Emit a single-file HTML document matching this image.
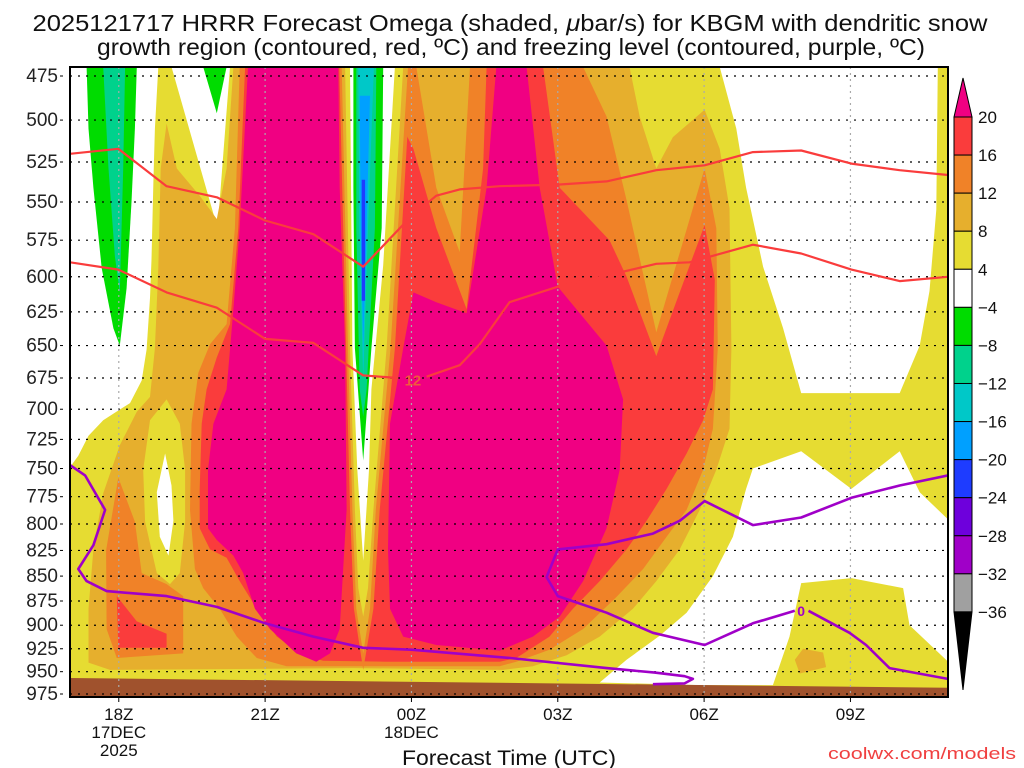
<!DOCTYPE html>
<html><head><meta charset="utf-8"><title>HRRR Omega KBGM</title>
<style>
html,body{margin:0;padding:0;background:#fff;}
svg{display:block;font-family:"Liberation Sans Narrow","Liberation Sans",sans-serif;}
</style></head>
<body>
<svg id="chart" width="1024" height="768" viewBox="0 0 1024 768" xmlns="http://www.w3.org/2000/svg">
<text x="510" y="31" font-size="23" text-anchor="middle" textLength="955" lengthAdjust="spacingAndGlyphs" fill="#111">2025121717 HRRR Forecast Omega (shaded, <tspan font-style="italic">μ</tspan>bar/s) for KBGM with dendritic snow</text>
<text x="511" y="55" font-size="23" text-anchor="middle" textLength="828" lengthAdjust="spacingAndGlyphs" fill="#111">growth region (contoured, red, ºC) and freezing level (contoured, purple, ºC)</text>
<defs><clipPath id="plotclip"><rect x="70" y="67" width="878" height="630"/></clipPath></defs>
<g id="plot" clip-path="url(#plotclip)"></g>
<g id="overlay"></g>
<g id="axes"></g>
<g id="cbar"></g>
<text x="509" y="765" font-size="21" text-anchor="middle" textLength="214" lengthAdjust="spacingAndGlyphs" fill="#111">Forecast Time (UTC)</text>
<text x="1016" y="759" font-size="17" text-anchor="end" textLength="188" lengthAdjust="spacingAndGlyphs" fill="#f04040">coolwx.com/models</text>
</svg>
<script>
// ---------- data ----------
const hourDomain = [17, 35];
const presDomain = [470.5, 978.5];
const pressureTicks = [475,500,525,550,575,600,625,650,675,700,725,750,775,800,825,850,875,900,925,950,975];
const timeTickHours = [18,21,24,27,30,33];
const timeTickLabels = [["18Z","17DEC","2025"],["21Z"],["00Z","18DEC"],["03Z"],["06Z"],["09Z"]];
const cbarLabels = ["20","16","12","8","4","−4","−8","−12","−16","−20","−24","−28","−32","−36"];
const cbarColors = ["#fa3c3c","#f08228","#e6af2d","#e6dc32","#ffffff","#00dc00","#00d28c","#00c8c8","#00a0ff","#1e3cff","#6e00dc","#a000c8","#a0a0a0"];

// shaded omega regions [hour, hPa], painted in order
const yellowBase = [[17,470],[35,470],[35,979],[17,979]];
const whiteLeftTop = [[17,470],[18.81,470],[18.74,505],[18.71,537],[18.67,588],[18.64,615],[18.57,653],[18.47,677],[18.23,695],[17.99,701],[17.68,709],[17.38,722],[17.17,739],[17.03,747],[17,747]];
const whiteWedge = [[19.08,470],[20.28,470],[20.04,561],[19.97,561]];
const whiteRightTop = [[30.32,470],[34.79,470],[34.76,555],[34.62,610],[34.42,650],[34.01,687],[31.99,687],[31.62,637],[31.21,593],[30.86,541],[30.66,505]];
const whiteRightBottom = [[31.0,750],[31.99,735],[33.02,768],[34.01,735],[34.42,771],[35.1,800],[35.1,944],[34.21,900],[34.08,862],[33.02,852],[31.99,857],[31.75,912],[31.41,965],[29.91,965],[27.86,962],[28.41,937],[29.09,911],[29.64,887],[30.18,850],[30.59,812],[30.86,768]];
const lightOrangeMain = [[20.35,470],[20.21,529],[20.01,561],[19.66,546],[19.19,529],[18.98,502],[18.86,529],[18.81,594],[18.74,652],[18.64,690],[18.37,702],[18.02,730],[17.68,772],[17.48,824],[17.38,883],[17.38,940],[17.82,948],[22.81,946],[25.88,948],[26.49,944],[27.18,932],[27.86,912],[28.54,883],[29.02,855],[29.5,824],[29.91,787],[30.25,751],[30.52,716],[30.56,652],[30.52,554],[30.32,517],[30.01,494],[29.36,510],[29.02,529],[28.68,498],[28.47,470]];
const lightOrangeBlobRight = [[31.86,937],[32.03,925],[32.44,929],[32.5,945],[31.96,952]];
const yellowAroundHole = [[18.98,692],[19.25,712],[19.36,751],[19.36,798],[19.25,847],[19.05,858],[18.78,847],[18.54,798],[18.5,751],[18.64,709]];
const whiteHole = [[18.95,737],[19.08,765],[19.12,797],[19.02,830],[18.84,812],[18.78,771]];
const orangeLeftBlob = [[17.99,758],[18.33,798],[18.47,847],[18.98,858],[19.32,870],[19.32,930],[17.96,935],[17.75,904],[17.74,825]];
const redLeftBlob = [[17.96,870],[18.37,896],[18.98,909],[18.98,924],[17.99,924]];
const orangeMain = [[20.48,470],[20.38,567],[20.21,634],[19.87,649],[19.63,671],[19.49,712],[19.46,787],[19.56,843],[19.73,862],[20.07,883],[20.42,912],[20.83,935],[21.44,944],[25.81,944],[26.15,939],[26.83,926],[27.52,904],[28.2,871],[28.75,843],[29.23,812],[29.64,787],[29.98,751],[30.18,716],[30.28,652],[30.25,567],[30.01,529],[29.02,640],[28.41,549],[28.0,498],[27.52,470]];
const lightOrangeTongue = [[24.1,470],[25.2,470],[24.99,583],[24.51,541]];
const redMain = [[20.59,470],[22.74,470],[23.83,505],[24.04,517],[24.51,567],[25.13,623],[25.47,529],[25.54,470],[26.7,470],[27.04,541],[28.06,575],[28.41,600],[29.02,658],[29.5,611],[30.01,565],[30.22,602],[30.18,684],[29.98,709],[29.64,737],[29.23,768],[28.82,797],[28.41,824],[27.86,855],[27.31,883],[26.83,912],[26.15,935],[25.81,939],[23.49,939],[22.19,938],[21.78,932],[21.24,912],[20.83,883],[20.48,855],[20.21,832],[19.87,824],[19.66,804],[19.66,768],[19.7,712],[19.8,684],[20.01,659],[20.28,634],[20.45,567]];
const magentaLeft = [[20.65,470],[20.48,567],[20.35,623],[20.21,684],[19.94,712],[19.83,751],[19.83,804],[20.01,815],[20.35,830],[20.55,847],[20.79,883],[21.1,904],[21.64,930],[22.05,939],[22.33,930],[22.53,904],[22.67,787],[22.64,652],[22.53,541],[22.5,470]];
const magentaRight = [[25.74,470],[25.54,541],[25.13,626],[24.51,618],[24.04,611],[23.83,652],[23.56,712],[23.52,824],[23.56,883],[23.83,912],[24.51,921],[25.81,927],[26.49,912],[27.04,891],[27.52,855],[28.0,804],[28.27,751],[28.34,692],[28.0,650],[27.0,607],[26.63,541],[26.36,470]];
const gapOrange = [[22.52,470],[22.66,652],[22.74,787],[22.82,883],[23.01,948],[23.22,883],[23.35,787],[23.66,652],[24.0,470]];
const gapLightOrange = [[22.57,470],[22.7,652],[22.79,787],[22.87,883],[23.01,930],[23.15,883],[23.27,787],[23.57,652],[23.93,470]];
const gapYellow = [[22.64,470],[22.74,652],[22.84,787],[22.91,862],[23.01,891],[23.11,862],[23.22,787],[23.49,652],[23.83,470]];
const gapWhite = [[22.74,470],[22.79,652],[22.89,751],[23.01,835],[23.13,751],[23.18,684],[23.42,592],[23.66,470]];
const negGreenCol = [[22.81,470],[22.81,541],[22.84,652],[23.01,743],[23.18,652],[23.39,567],[23.42,470]];
const negTealCol = [[22.87,470],[22.87,567],[22.94,684],[23.01,706],[23.08,684],[23.25,567],[23.28,470]];
const negCyanCol = [[22.91,470],[22.93,567],[23.01,677],[23.11,567],[23.23,470]];
const negSkyCol = [[22.94,486],[22.96,567],[23.01,652],[23.08,567],[23.15,486]];
const negBlueCol = [[22.98,536],[22.98,617],[23.05,617],[23.05,536]];
const negGreenLeft = [[17.34,470],[18.37,470],[18.33,505],[18.26,550],[18.16,608],[18.02,650],[17.89,637],[17.65,594],[17.48,541],[17.38,505]];
const negTealLeft = [[17.68,470],[18.13,470],[18.09,529],[18.02,611],[17.92,586],[17.79,529]];
const negGreenStrip = [[19.73,470],[20.21,470],[20.01,496]];
const groundSurface = [[17,957],[35,968],[35,985],[17,985]];

// contour lines [hour, hPa]
const dgzUpper = [[17,520],[17.99,517],[18.98,540],[20.01,547],[21.0,562],[21.99,571],[23.01,593],[23.97,560],[24.51,546],[24.99,542],[25.81,540],[27.0,539],[28.0,537],[29.02,530],[30.01,527],[31.0,519],[31.99,518],[33.02,526],[34.01,530],[35,533]];
const dgzLowerA = [[17,590],[17.99,595],[18.98,611],[20.01,622],[21.0,645],[21.99,648],[23.01,673],[23.73,675]];
const dgzLowerB = [[24.31,674],[24.99,665],[25.4,649],[26.01,618],[27.0,607],[28.27,597],[29.02,591],[29.7,590],[31.0,578],[31.99,584],[33.02,595],[34.01,603],[35,600]];
const dgzLabelPos = [24.03,676];
const freezeA = [[17,747],[17.31,756],[17.72,787],[17.48,820],[17.17,843],[17.34,855],[17.75,865],[18.98,870],[20.01,881],[21.0,898],[21.99,912],[23.01,924],[24.0,926],[26.02,935],[28.0,946],[28.99,951],[29.6,955],[29.77,958],[29.6,963],[28.95,964]];
const freezeB1 = [[35,756],[34.01,765],[33.02,776],[31.99,794],[31.0,801],[30.01,779],[29.5,797],[28.95,809],[28.0,819],[27.0,824],[26.77,851],[27.0,870],[28.0,887],[28.95,908],[30.01,921],[31.0,898],[31.86,885]];
const freezeB2 = [[32.14,885],[32.98,908],[33.32,921],[33.8,946],[35,958]];
const freezeLabelPos = [31.99,885];

// ---------- scales ----------
const X0=70, X1=948, YT=76, YB=694;
function xs(h){ return X0 + (h-hourDomain[0])*(X1-X0)/(hourDomain[1]-hourDomain[0]); }
function ys(p){ return YT + (Math.log(p)-Math.log(475))*(YB-YT)/(Math.log(975)-Math.log(475)); }
const NS="http://www.w3.org/2000/svg";
function mk(tag, attrs, parent){ const e=document.createElementNS(NS,tag); for(const k in attrs) e.setAttribute(k,attrs[k]); parent.appendChild(e); return e; }
function pts(arr){ return arr.map(d=>xs(d[0]).toFixed(1)+","+ys(d[1]).toFixed(1)).join(" "); }

const plot=document.getElementById("plot");
const shading=[
 [yellowBase,"#e6dc32","shade-4-to-8"],
 [whiteLeftTop,"#ffffff","shade-neutral-left"],
 [whiteWedge,"#ffffff","shade-neutral-wedge"],
 [whiteRightTop,"#ffffff","shade-neutral-right-top"],
 [whiteRightBottom,"#ffffff","shade-neutral-right-bottom"],
 [lightOrangeMain,"#e6af2d","shade-8-to-12"],
 [lightOrangeBlobRight,"#e6af2d","shade-8-to-12-blob"],
 [yellowAroundHole,"#e6dc32","shade-4-to-8-patch"],
 [whiteHole,"#ffffff","shade-neutral-hole"],
 [orangeLeftBlob,"#f08228","shade-12-to-16-left"],
 [redLeftBlob,"#fa3c3c","shade-16-to-20-left"],
 [orangeMain,"#f08228","shade-12-to-16"],
 [lightOrangeTongue,"#e6af2d","shade-8-to-12-tongue"],
 [redMain,"#fa3c3c","shade-16-to-20"],
 [magentaLeft,"#f00082","shade-above-20-left"],
 [magentaRight,"#f00082","shade-above-20-right"],
 [gapOrange,"#f08228","gap-12-to-16"],
 [gapLightOrange,"#e6af2d","gap-8-to-12"],
 [gapYellow,"#e6dc32","gap-4-to-8"],
 [gapWhite,"#ffffff","gap-neutral"],
 [negGreenCol,"#00dc00","shade-minus-4-column"],
 [negTealCol,"#00d28c","shade-minus-8-column"],
 [negCyanCol,"#00c8c8","shade-minus-12-column"],
 [negSkyCol,"#00a0ff","shade-minus-16-column"],
 [negBlueCol,"#1e3cff","shade-minus-20-column"],
 [negGreenLeft,"#00dc00","shade-minus-4-left"],
 [negTealLeft,"#00d28c","shade-minus-8-left"],
 [negGreenStrip,"#00dc00","shade-minus-4-strip"]
];
shading.forEach(s=>{
  const e=mk("polygon",{points:pts(s[0]),fill:s[1]},plot);
  
  
});
const g=mk("polygon",{points:pts(groundSurface),fill:"#a0522d"},plot);



// gridlines
pressureTicks.forEach(p=>{
  const l=mk("line",{x1:X0,x2:X1,y1:ys(p),y2:ys(p),stroke:"#000","stroke-width":1.2,"stroke-dasharray":"2,6"},plot);
  
  
});
timeTickHours.forEach(h=>{
  const l=mk("line",{x1:xs(h),x2:xs(h),y1:67,y2:697,stroke:"#aaaaaa","stroke-width":1.2,"stroke-dasharray":"2,4"},plot);
  
  
});

// contour lines
const ov=document.getElementById("overlay");
const cl=document.getElementById("plot");
[[dgzUpper,"#fa3c3c",2.2,"dgz-contour-upper"],[dgzLowerA,"#fa3c3c",2.2,"dgz-contour-lower"],[dgzLowerB,"#fa3c3c",2.2,"dgz-contour-lower-right"],
 [freezeA,"#a000c8",2.6,"freezing-level-contour"],[freezeB1,"#a000c8",2.6,"freezing-level-contour-right"],[freezeB2,"#a000c8",2.6,"freezing-level-contour-right-end"]].forEach(c=>{
  const e=mk("polyline",{points:pts(c[0]),fill:"none",stroke:c[1],"stroke-width":c[2],"stroke-linejoin":"round"},cl);
  
  
});
const t1=mk("text",{x:xs(dgzLabelPos[0]),y:ys(dgzLabelPos[1])+6,"font-size":15,"font-weight":"bold","text-anchor":"middle",fill:"#f05a3c"},cl);
t1.textContent="12";


const t2=mk("text",{x:xs(freezeLabelPos[0]),y:ys(freezeLabelPos[1])+5,"font-size":14,"font-weight":"bold","text-anchor":"middle",fill:"#a000c8"},cl);
t2.textContent="0";



// axes
const ax=document.getElementById("axes");
const fr=mk("rect",{x:70,y:67,width:878,height:630,fill:"none",stroke:"#000","stroke-width":2},ax);


pressureTicks.forEach(p=>{
  const t=mk("text",{x:58,y:ys(p)+6,"font-size":19,"text-anchor":"end",fill:"#222"},ax);
  t.textContent=String(p);
  
  
  const k=mk("line",{x1:60,x2:63,y1:ys(p),y2:ys(p),stroke:"#000","stroke-width":1},ax);
  
  
});
timeTickHours.forEach((h,i)=>{
  const k=mk("line",{x1:xs(h),x2:xs(h),y1:697,y2:702,stroke:"#000","stroke-width":1},ax);
  
  
  timeTickLabels[i].forEach((s,j)=>{
    const t=mk("text",{x:xs(h),y:720+j*18,"font-size":17,"text-anchor":"middle",fill:"#111"},ax);
    t.textContent=s;
    
    
  });
});

// colorbar
const cb=document.getElementById("cbar");
const CBX=954, CBW=18, CBT=117, CBH=38.07;
cbarColors.forEach((c,i)=>{
  const r=mk("rect",{x:CBX,y:CBT+i*CBH,width:CBW,height:CBH,fill:c,stroke:"#000","stroke-width":1},cb);
  
  
});
const tt=mk("polygon",{points:`${CBX},${CBT} ${CBX+CBW},${CBT} ${CBX+CBW/2},78`,fill:"#f00082",stroke:"#000","stroke-width":1},cb);


const bt=CBT+cbarColors.length*CBH;
const tb=mk("polygon",{points:`${CBX},${bt} ${CBX+CBW},${bt} ${CBX+CBW/2},690`,fill:"#000",stroke:"#000","stroke-width":1},cb);


cbarLabels.forEach((s,i)=>{
  const t=mk("text",{x:978,y:CBT+i*CBH+6,"font-size":17,fill:"#111"},cb);
  t.textContent=s;
  
  
});
</script>
</body></html>
